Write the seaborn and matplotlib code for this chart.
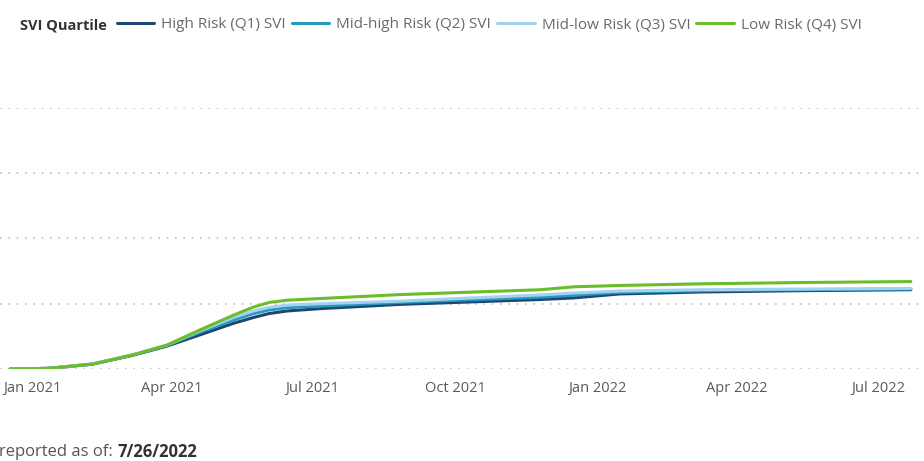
import pandas as pd
import numpy as np
import matplotlib.pyplot as plt
import matplotlib.dates as mdates
import seaborn as sns

sns.set_theme(style="white")
plt.rcParams['font.family'] = ['Open Sans', 'DejaVu Sans']

# Cumulative share by SVI quartile (% units)
dates = ['2020-12-18', '2021-01-12', '2021-02-09', '2021-03-07', '2021-03-29',
         '2021-04-19', '2021-05-11', '2021-05-24', '2021-06-03', '2021-06-15', '2021-07-06',
         '2021-08-26', '2021-11-25', '2021-12-17', '2022-01-15', '2022-03-08',
         '2022-05-11', '2022-07-22']
q1_high = [0, 0.2, 1.5, 4.2, 7.0, 10.4, 14.0, 15.8, 17.0, 17.8, 18.5, 19.8, 21.3, 21.8, 23.0, 23.6, 24.0, 24.3]
q2_midhigh = [0, 0.2, 1.5, 4.3, 7.2, 11.2, 15.0, 17.0, 18.1, 18.8, 19.3, 20.4, 22.0, 22.6, 23.5, 24.0, 24.3, 24.5]
q3_midlow = [0, 0.2, 1.6, 4.4, 7.3, 11.6, 15.8, 17.8, 18.9, 19.6, 20.0, 20.8, 22.7, 23.3, 23.9, 24.3, 24.5, 24.7]
q4_low = [0, 0.2, 1.5, 4.3, 7.3, 11.9, 16.5, 19.0, 20.4, 21.1, 21.6, 22.8, 24.3, 25.2, 25.6, 26.1, 26.5, 26.8]

labels = ['High Risk (Q1) SVI', 'Mid-high Risk (Q2) SVI', 'Mid-low Risk (Q3) SVI', 'Low Risk (Q4) SVI']
colors = ['#1f4570', '#2499bd', '#a3d2f0', '#6cbd2c']

frames = []
for lab, vals in zip(labels, [q1_high, q2_midhigh, q3_midlow, q4_low]):
    frames.append(pd.DataFrame({'date': pd.to_datetime(dates), 'value': vals, 'quartile': lab}))
df = pd.concat(frames, ignore_index=True)

fig = plt.figure(figsize=(9.24, 4.61), dpi=100)
ax = fig.add_axes([0, 92 / 461, 1.0, 261 / 461])

sns.lineplot(data=df, x='date', y='value', hue='quartile', hue_order=labels,
             palette=colors, linewidth=2.2, ax=ax)

ax.set_xlim(pd.Timestamp('2021-01-01') - pd.Timedelta(days=20.6),
            pd.Timestamp('2021-01-01') + pd.Timedelta(days=575.5))
ax.set_ylim(0, 80)
ax.set_yticks([0, 20, 40, 60, 80])
ax.set_yticklabels([])
ax.yaxis.grid(True, color='#bdbdbd', linestyle=(0, (1, 4)), linewidth=1.2)
ax.set_axisbelow(True)
for s in ax.spines.values():
    s.set_visible(False)
ax.xaxis.set_major_locator(mdates.MonthLocator(bymonth=[1, 4, 7, 10]))
ax.xaxis.set_major_formatter(mdates.DateFormatter('%b %Y'))
ax.tick_params(axis='x', length=0, pad=8.5, labelsize=10.5, labelcolor='#595959')
ax.tick_params(axis='y', length=0)
ax.set_xlabel('')
ax.set_ylabel('')

handles, labs = ax.get_legend_handles_labels()
ax.get_legend().remove()
fig.legend(handles, labs, ncol=4, loc='center left', bbox_to_anchor=(117 / 924, 1 - 25 / 461),
           frameon=False, fontsize=11, handlelength=2.45, handletextpad=0.45,
           columnspacing=0.4, borderpad=0, borderaxespad=0, labelcolor='#6a6a6a')
fig.text(20 / 924, 1 - 25 / 461, 'SVI Quartile', fontsize=10.5, fontweight='bold',
         color='#333333', va='center', ha='left')

t1 = fig.text(-1 / 924, 1 - 452 / 461, 'reported as of: ', fontsize=12, color='#555555',
              va='center', ha='left')
fig.canvas.draw()
ax.annotate('7/26/2022', xy=(1, 0.5), xycoords=t1, va='center', ha='left',
            fontsize=12, fontweight='bold', color='#333333', annotation_clip=False)

fig.savefig('out.png', dpi=100)
